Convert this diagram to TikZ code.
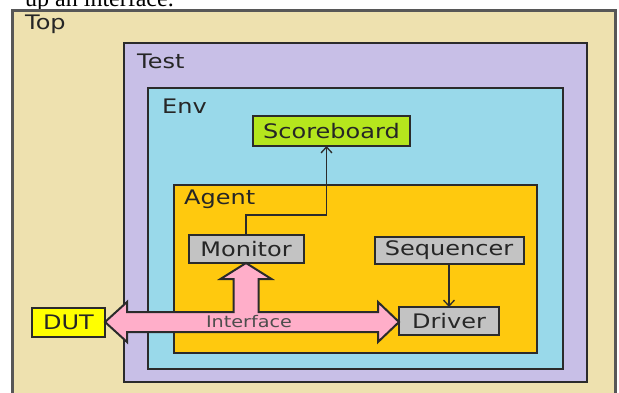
\documentclass[tikz,border=0pt]{standalone}
\usepackage{fontspec}
\usetikzlibrary{arrows.meta,calc,positioning}
\newfontfamily\lbl[FakeStretch=1.2]{DejaVu Sans}
\newfontfamily\capfont{Liberation Serif}
\definecolor{edge}{HTML}{2B2B2B}
\definecolor{topedge}{HTML}{575757}
\definecolor{ink}{HTML}{262626}
\definecolor{tan}{HTML}{EEE1AF}
\definecolor{lavender}{HTML}{C8BFE7}
\definecolor{sky}{HTML}{99D9EA}
\definecolor{gold}{HTML}{FFC90E}
\definecolor{lime}{HTML}{B5E61D}
\definecolor{unitgray}{HTML}{C3C3C3}
\definecolor{dutyellow}{HTML}{FFFF00}
\definecolor{buspink}{HTML}{FFAEC9}
\definecolor{ifacegray}{HTML}{4D4D4D}
\tikzset{
	node distance=43pt,
	layer/.style = {draw=edge, line width=2.5pt, anchor=north west, inner sep=0pt, outer sep=0pt},
	unit/.style = {draw=edge, line width=2pt, fill=unitgray, inner sep=0pt, outer sep=0pt, text=ink, font=\lbl\fontsize{20}{24}\selectfont},
	tag/.style = {anchor=base west, inner sep=0pt, text=ink, font=\lbl\fontsize{20}{24}\selectfont},
	link/.style = {draw=edge, line width=1.3pt, -{Straight Barb[length=6pt,width=11pt]}},
	bus/.style = {draw=edge, line width=2pt, line join=miter, fill=buspink}
}
\begin{document}
\begin{tikzpicture}[x=1pt,y=-1pt]
	\useasboundingbox[fill=white] (0,0) rectangle (619,392);
	\node[anchor=base west, inner sep=0pt, font=\capfont\fontsize{24}{28}\selectfont] (caption) at (25,6) {up an interface.};
	\node[layer, draw=topedge, line width=3pt, fill=tan, minimum width=603, minimum height=400] (top) at (12,10) {};
	\node[layer, fill=lavender, minimum width=463, minimum height=339] (test) at (124,43) {};
	\node[layer, fill=sky, minimum width=415, minimum height=281] (env) at (148,88) {};
	\node[layer, fill=gold, minimum width=363, minimum height=168] (agent) at (174,185) {};
	\node[tag] (toptag) at ($(top.north west)+(13,19)$) {Top};
	\node[tag] (testtag) at ($(test.north west)+(13,25)$) {Test};
	\node[tag] (envtag) at ($(env.north west)+(14,25)$) {Env};
	\node[tag] (agenttag) at ($(agent.north west)+(10,19)$) {Agent};
	\node[unit, fill=lime, minimum width=157, minimum height=30] (scoreboard) at (331.5,131) {Scoreboard};
	\node[unit, minimum width=115, minimum height=28] (monitor) at (246,249) {Monitor};
	\node[unit, minimum width=149, minimum height=27] (sequencer) at (449,250.5) {Sequencer};
	\node[unit, minimum width=100, minimum height=28] (driver) [below=43pt of sequencer] {Driver};
	\node[unit, fill=dutyellow, minimum width=73, minimum height=29] (dut) at (68.5,322) {DUT};
	\coordinate (j) at (monitor.south |- dut.east);
	\draw[bus] (dut.east) -- ++(22,-20) -- ++(0,10) -- ($(j)+(-12.5,-10)$)
		-- ($(monitor.south)+(-12.5,16)$) -- ++(-13,0) -- (monitor.south)
		-- ($(monitor.south)+(25.5,16)$) -- ++(-13,0) -- ($(j)+(12.5,-10)$)
		-- ($(driver.west |- dut.east)+(-21,-10)$) -- ++(0,-10) -- (driver.west |- dut.east)
		-- ++(-21,20) -- ++(0,-10) -- ($(dut.east)+(22,10)$) -- ++(0,10) -- cycle;
	\node[inner sep=0pt, text=ifacegray, font=\lbl\fontsize{16}{19}\selectfont] (iface) at ($(j)+(3,0)$) {Interface};
	\draw[link] (monitor.north) -- ++(0,-20) -| ([xshift=-5pt]scoreboard.south);
	\draw[link] (sequencer.south) -- (driver.north);
\end{tikzpicture}
\end{document}
